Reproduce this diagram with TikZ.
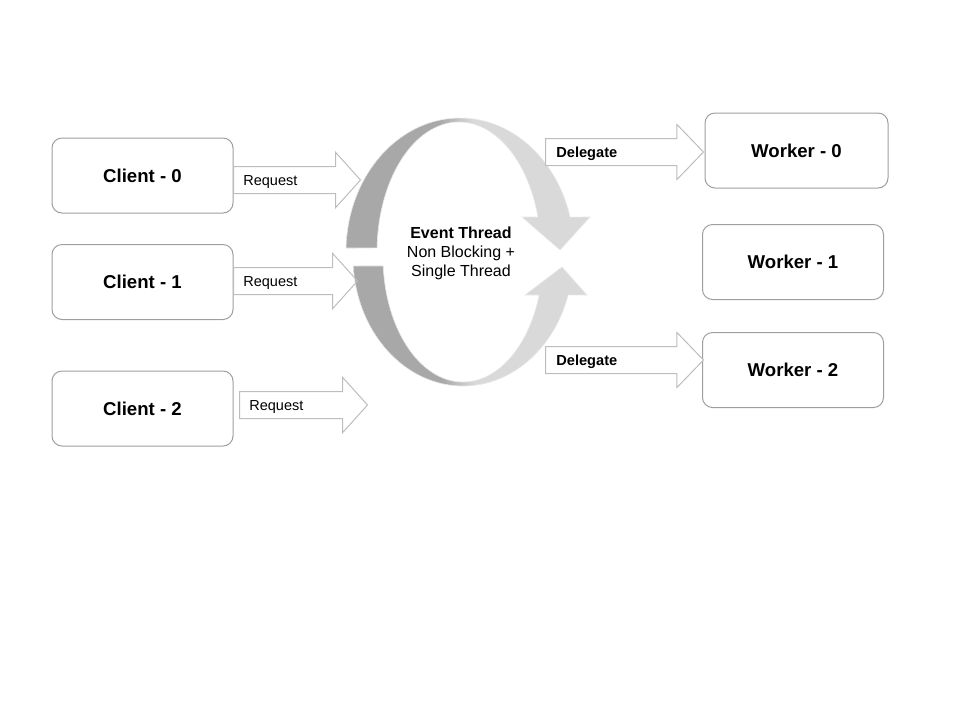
\documentclass[tikz,border=0pt]{standalone}
\usepackage{fontspec}
\setmainfont{Liberation Sans}
\usetikzlibrary{shapes.arrows}
\definecolor{ringdark}{HTML}{A8A8A8}
\definecolor{ringlight}{HTML}{D9D9D9}
\definecolor{boxline}{HTML}{9E9E9E}
\definecolor{arrowline}{HTML}{BDBDBD}
\pgfdeclarehorizontalshading{ringshade}{100bp}{color(0bp)=(ringdark); color(44bp)=(ringdark); color(51bp)=(ringlight); color(100bp)=(ringlight)}
\tikzset{
  party/.style={draw=boxline, line width=0.5pt, rounded corners=5pt,
    minimum width=90.5pt, minimum height=37.5pt,
    font=\fontsize{9.3}{11}\selectfont\bfseries},
  blockarrow/.style={single arrow, draw=arrowline, line width=0.5pt,
    inner sep=0pt, inner ysep=6.5pt, minimum width=27pt,
    single arrow head extend=7pt, anchor=tail},
  request/.style={blockarrow, single arrow tip angle=96},
  delegate/.style={blockarrow, fill=white, single arrow tip angle=92},
  arrowtext/.style={anchor=west, inner sep=0pt, font=\fontsize{7.25}{9}\selectfont},
  ringpart/.style={shading=ringshade, draw=ringlight!60!white, line width=0.3pt},
}
\begin{document}
\begin{tikzpicture}[x=0.5pt, y=-0.5pt]
  \useasboundingbox (0,0) rectangle (960,720);

  % event loop ring
  \path[ringpart]
    ([shift={(460,252)}]181.7:114 and 134)
    arc[start angle=181.7, end angle=344.9, x radius=114, y radius=134]
    -- (590,217) -- (560,250) -- (522,217)
    -- ([shift={(459,252)}]344.4:82 and 130)
    arc[start angle=344.4, end angle=181.8, x radius=82, y radius=130] -- cycle;
  \path[ringpart]
    ([shift={(463,257)}]176:110 and 129)
    arc[start angle=176, end angle=17.1, x radius=110, y radius=129]
    -- (587,295) -- (562,267) -- (525,295)
    -- ([shift={(463,257)}]17.7:80 and 125)
    arc[start angle=17.7, end angle=175.9, x radius=80, y radius=125] -- cycle;
  \node[align=center, inner sep=0pt, font=\fontsize{8}{9.5}\selectfont] (evt) at (461,253)
    {\textbf{Event Thread}\\Non Blocking +\\Single Thread};

  % clients
  \node[party] (c0) at (142.5,175.5) {Client - 0};
  \node[party] (c1) at (142.5,282) {Client - 1};
  \node[party] (c2) at (142.5,408.5) {Client - 2};

  % workers
  \node[party, minimum width=91.5pt] (w0) at (796.5,150.5) {Worker - 0};
  \node[party] (w1) at (793,262) {Worker - 1};
  \node[party] (w2) at (793,370) {Worker - 2};

  % requests
  \node[request, minimum height=63.5pt] (r0) at (233,180) {};
  \node[request, minimum height=62pt] (r1) at (233,281) {};
  \node[request, minimum height=64pt] (r2) at (239,405) {};
  \node[arrowtext] (r0t) at ([xshift=5pt, yshift=-1pt]r0.tail) {Request};
  \node[arrowtext] (r1t) at ([xshift=5pt, yshift=-1pt]r1.tail) {Request};
  \node[arrowtext] (r2t) at ([xshift=5pt, yshift=-1pt]r2.tail) {Request};

  % delegations
  \node[delegate, minimum height=79pt] (d0) at (545,152) {};
  \node[delegate, minimum height=79pt] (d2) at (545,360) {};
  \node[arrowtext, font=\fontsize{7.3}{9}\selectfont\bfseries] (d0t) at ([xshift=5.5pt, yshift=-1pt]d0.tail) {Delegate};
  \node[arrowtext, font=\fontsize{7.3}{9}\selectfont\bfseries] (d2t) at ([xshift=5.5pt, yshift=-1pt]d2.tail) {Delegate};
\end{tikzpicture}
\end{document}
